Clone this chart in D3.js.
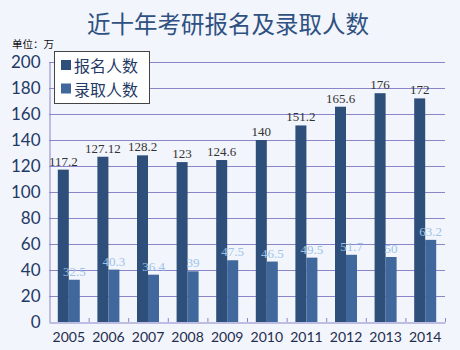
<!DOCTYPE html>
<html><head><meta charset="utf-8">
<script src="https://cdn.jsdelivr.net/npm/d3@7"></script>
<style>
html,body{margin:0;padding:0;background:#f2f5fb;}
svg{display:block;}
</style></head>
<body>
<script>
const years = ["2005","2006","2007","2008","2009","2010","2011","2012","2013","2014"];
const applicants = [117.2,127.12,128.2,123,124.6,140,151.2,165.6,176,172];
const admitted = [32.5,40.3,36.4,39,47.5,46.5,49.5,51.7,50,63.2];
const applicantLabels = ["117.2","127.12","128.2","123","124.6","140","151.2","165.6","176","172"];
const admittedLabels = ["32.5","40.3","36.4","39","47.5","46.5","49.5","51.7","50","63.2"];
const seriesNames = ["报名人数","录取人数"];
const yTicks = [0,20,40,60,80,100,120,140,160,180,200];

const W=460,H=350;
const pLeft=49,pRight=445,pTop=62,pBottom=322;
const darkC="#2e4f79", lightC="#41689d";
const gridC="#8a86c8";

const svg=d3.select("body").append("svg").attr("width",W).attr("height",H);
svg.append("rect").attr("width",W).attr("height",H).attr("fill","#f2f5fb");

svg.append("text").attr("x",228).attr("y",33).attr("text-anchor","middle")
  .attr("font-family","Noto Sans CJK SC").attr("font-size",23.5).attr("fill","#2f5182")
  .text("近十年考研报名及录取人数");
svg.append("text").attr("x",12).attr("y",48)
  .attr("font-family","Noto Sans CJK SC").attr("font-size",10.5).attr("fill","#111")
  .text("单位：万");

const x=d3.scaleBand().domain(years).range([pLeft,pRight]);
const y=d3.scaleLinear().domain([0,200]).range([pBottom,pTop]);

// gridlines
svg.append("g").selectAll("line").data(yTicks.filter(d=>d>0)).join("line")
  .attr("x1",pLeft).attr("x2",pRight).attr("y1",d=>Math.round(y(d))+0.5).attr("y2",d=>Math.round(y(d))+0.5)
  .attr("stroke",gridC).attr("stroke-width",1);

// y axis
const ya=svg.append("g").attr("transform",`translate(${pLeft+0.5},0)`)
  .call(d3.axisLeft(y).tickValues(yTicks).tickSize(0).tickPadding(9));
ya.select(".domain").attr("stroke",gridC);
ya.selectAll("text").attr("font-family","Lato").attr("font-size",17).attr("fill","#1f3a66");

const bw=11;
const g=svg.append("g");
g.selectAll("rect.a").data(years).join("rect").attr("class","a")
  .attr("x",(d,i)=>x(d)+x.bandwidth()/2-bw).attr("width",bw)
  .attr("y",(d,i)=>y(applicants[i])).attr("height",(d,i)=>pBottom-y(applicants[i]))
  .attr("fill",darkC);
g.selectAll("rect.b").data(years).join("rect").attr("class","b")
  .attr("x",(d,i)=>x(d)+x.bandwidth()/2).attr("width",bw)
  .attr("y",(d,i)=>y(admitted[i])).attr("height",(d,i)=>pBottom-y(admitted[i]))
  .attr("fill",lightC);

// x axis
const xa=svg.append("g").attr("transform",`translate(0,${pBottom+0.5})`)
  .call(d3.axisBottom(x).tickSize(0).tickPadding(10));
xa.select(".domain").attr("stroke",gridC);
xa.selectAll("text").attr("font-family","Lato").attr("font-size",14).attr("fill","#1f2d4e");
// inward tick marks at band boundaries
svg.append("g").selectAll("line").data(years).join("line")
  .attr("x1",d=>x(d)+x.bandwidth()+0.5).attr("x2",d=>x(d)+x.bandwidth()+0.5)
  .attr("y1",pBottom-4).attr("y2",pBottom).attr("stroke",gridC);

// value labels
g.selectAll("text.a").data(years).join("text").attr("class","a")
  .attr("x",(d,i)=>x(d)+x.bandwidth()/2-bw/2).attr("y",(d,i)=>y(applicants[i])-4)
  .attr("text-anchor","middle").attr("font-family","Liberation Serif").attr("font-size",13)
  .attr("fill","#333").text((d,i)=>applicantLabels[i]);
g.selectAll("text.b").data(years).join("text").attr("class","b")
  .attr("x",(d,i)=>x(d)+x.bandwidth()/2+bw/2).attr("y",(d,i)=>y(admitted[i])-4)
  .attr("text-anchor","middle").attr("font-family","Liberation Serif").attr("font-size",13)
  .attr("fill","#9cc4ea").text((d,i)=>admittedLabels[i]);

// legend
const lg=svg.append("g");
lg.append("rect").attr("x",54.5).attr("y",51.5).attr("width",95).attr("height",52)
  .attr("fill","#fff").attr("stroke","#444").attr("stroke-width",1);
seriesNames.forEach((n,i)=>{
  lg.append("rect").attr("x",61).attr("y",60+i*23.5).attr("width",10).attr("height",10)
    .attr("fill",i?lightC:darkC);
  lg.append("text").attr("x",74).attr("y",72+i*23.5)
    .attr("font-family","Noto Sans CJK SC").attr("font-size",16).attr("fill","#1f3a66").text(n);
});
</script>
</body></html>
